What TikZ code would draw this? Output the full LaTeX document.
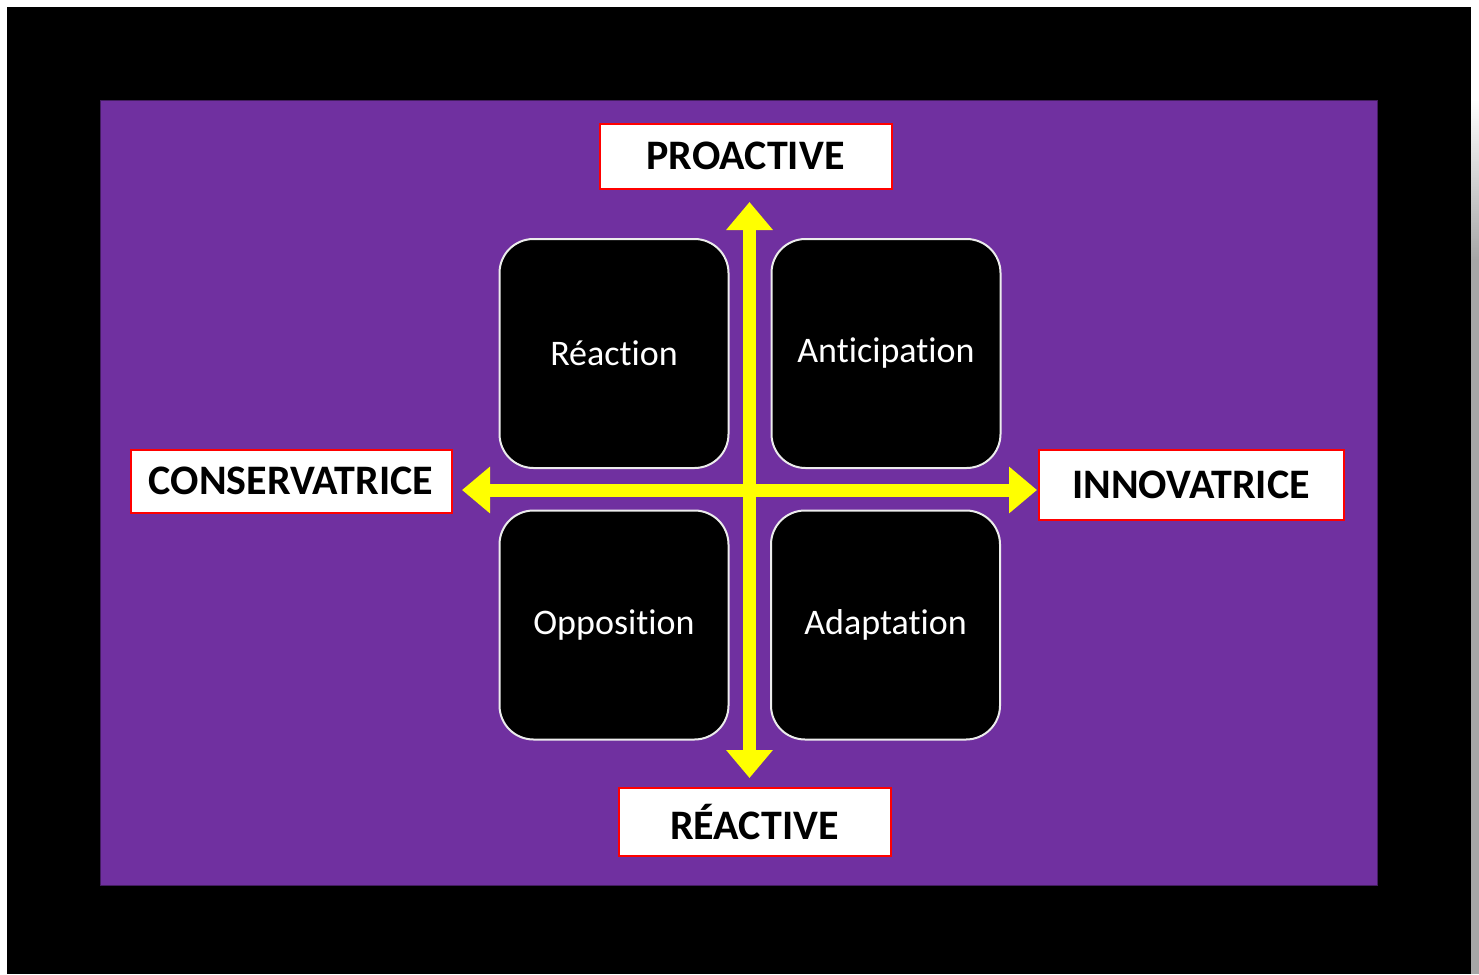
\documentclass[tikz,border=0pt]{standalone}
\usepackage{fontspec}
\setmainfont{Carlito}[Ligatures=NoCommon]
\usetikzlibrary{arrows.meta}
\definecolor{bgpurple}{HTML}{7030A0}
\definecolor{axisyellow}{HTML}{FFFF00}
\tikzset{
  quad/.style={draw=white!85!gray, line width=2pt, fill=black, rounded corners=34pt,
    minimum width=229pt, minimum height=229pt, inner sep=0pt, text=white,
    font=\fontsize{36}{40}\selectfont},
  axislabel/.style={draw=red, line width=2pt, fill=white, inner sep=0pt, text=black,
    font=\bfseries\fontsize{42}{46}\selectfont},
  axis/.style={draw=axisyellow, line width=13pt,
    {Triangle[length=28pt,width=45pt]}-{Triangle[length=28pt,width=45pt]}}
}
\begin{document}
\begin{tikzpicture}[x=1pt,y=-1pt]
\useasboundingbox (0,0) rectangle (1479,974);
\fill[white] (0,0) rectangle (1479,974);
% shadow on the right
\shade[top color=white, bottom color=gray!70] (1471,100) rectangle (1479,260);
\fill[gray!70] (1471,260) rectangle (1479,974);
% black frame
\fill[black] (7,7) rectangle (1471,974);
% purple panel
\draw[fill=bgpurple, draw=bgpurple!60!black, line width=0.8pt] (100,100) rectangle (1377,885);
% quadrant boxes
\node[quad] (reaction) at (614,353.5) {Réaction};
\node[quad] (anticipation) at (886,353.5) {Anticipation};
\node[quad] (opposition) at (614,625) {Opposition};
\node[quad] (adaptation) at (885.5,625) {Adaptation};
% axis labels
\node[axislabel, minimum width=292pt, minimum height=65pt] (proactive) at (745.5,156) {PROACTIVE};
\node[axislabel, minimum width=321pt, minimum height=63pt] (conservatrice) at (291,481) {CONSERVATRICE};
\node[axislabel, minimum width=305pt, minimum height=70pt] (innovatrice) at (1191,484.5) {INNOVATRICE};
\node[axislabel, minimum width=272pt, minimum height=68pt] (reactive) at (754.5,821.5) {RÉACTIVE};
% axes
\coordinate (top) at (749.5,202);
\coordinate (bottom) at (749.5,778);
\coordinate (left) at (462,490);
\coordinate (right) at (1037,490);
\draw[axis] (left) -- (right);
\draw[axis] (bottom) -- (top);
\end{tikzpicture}
\end{document}
